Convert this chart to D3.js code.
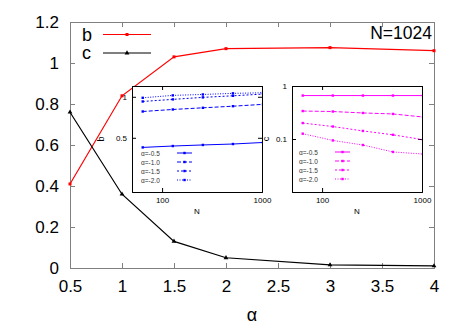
<!DOCTYPE html>
<html>
<head>
<meta charset="utf-8">
<title>b c vs alpha</title>
<script type="text/javascript" src="https://d3js.org/d3.v7.js"></script>
<style>
  body { margin: 0; background: #fff; }
  text { font-family: "Liberation Sans", Arial, sans-serif; }
</style>
</head>
<body>
<script type="text/javascript">
const width = 467;
const height = 327;

// main data (N=1024)
const alphas = [0.5, 1, 1.5, 2, 3, 4];
const bValues = [0.41, 0.84, 1.03, 1.07, 1.075, 1.06];
const cValues = [0.76, 0.36, 0.13, 0.05, 0.015, 0.01];
const xTicks = [0.5, 1, 1.5, 2, 2.5, 3, 3.5, 4];
const yTicks = [0, 0.2, 0.4, 0.6, 0.8, 1, 1.2];

// inset data
const sizes = [64, 128, 256, 512, 1024];
const insetAlphas = ["α=-0.5", "α=-1.0", "α=-1.5", "α=-2.0"];
const bInset = [
  [0.425, 0.435, 0.443, 0.450, 0.462],
  [0.78, 0.807, 0.83, 0.853, 0.88],
  [0.924, 0.957, 0.99, 1.017, 1.047],
  [0.983, 1.024, 1.04, 1.06, 1.07]
];
const cInset = [
  [0.66, 0.66, 0.66, 0.66, 0.66],
  [0.337, 0.33, 0.31, 0.297, 0.26],
  [0.2, 0.172, 0.142, 0.12, 0.097],
  [0.126, 0.094, 0.077, 0.057, 0.052]
];
const nTicks = [100, 1000];
const bInsetTicks = [0.5, 1];
const cInsetTicks = [0.1, 1];

const dashes = [null, "4,2", "2,2", "1,1.5"];

const svg = d3.select("body").append("svg")
  .attr("width", width).attr("height", height);

// main scales
const x = d3.scaleLinear().domain([0.5, 4]).range([70, 434]);
const y = d3.scaleLinear().domain([0, 1.2]).range([268, 22]);
const fmt = d => String(+d.toFixed(1));

// axes with inner ticks on all four sides
const frameColor = "#808080";
svg.append("g").attr("transform", "translate(0,268)")
  .call(d3.axisBottom(x).tickValues(xTicks).tickSize(-5).tickPadding(12).tickFormat(fmt))
  .call(g => g.select(".domain").attr("stroke", frameColor))
  .call(g => g.selectAll(".tick line").attr("stroke", frameColor))
  .call(g => g.selectAll("text").attr("font-size", 17).attr("fill", "#000")
    .attr("font-family", "Liberation Sans, Arial, sans-serif"));
svg.append("g").attr("transform", "translate(0,22)")
  .call(d3.axisTop(x).tickValues(xTicks).tickSize(-5).tickFormat(""))
  .call(g => g.select(".domain").attr("stroke", frameColor))
  .call(g => g.selectAll(".tick line").attr("stroke", frameColor));
svg.append("g").attr("transform", "translate(70,0)")
  .call(d3.axisLeft(y).tickValues(yTicks).tickSize(-5).tickPadding(11).tickFormat(fmt))
  .call(g => g.select(".domain").attr("stroke", frameColor))
  .call(g => g.selectAll(".tick line").attr("stroke", frameColor))
  .call(g => g.selectAll("text").attr("font-size", 17).attr("fill", "#000")
    .attr("font-family", "Liberation Sans, Arial, sans-serif"));
svg.append("g").attr("transform", "translate(434,0)")
  .call(d3.axisRight(y).tickValues(yTicks).tickSize(-5).tickFormat(""))
  .call(g => g.select(".domain").attr("stroke", frameColor))
  .call(g => g.selectAll(".tick line").attr("stroke", frameColor));

svg.append("text").attr("x", 252).attr("y", 321).attr("text-anchor", "middle")
  .attr("font-size", 18).text("α");

// main series
const mainLine = vals => d3.line().x((d, i) => x(alphas[i])).y(d => y(d))(vals);
svg.append("path").attr("d", mainLine(bValues)).attr("fill", "none")
  .attr("stroke", "#ff0000").attr("stroke-width", 1.2);
svg.append("path").attr("d", mainLine(cValues)).attr("fill", "none")
  .attr("stroke", "#000").attr("stroke-width", 1.2);
svg.selectAll(".bpt").data(bValues).enter().append("rect")
  .attr("x", (d, i) => x(alphas[i]) - 1.5).attr("y", d => y(d) - 1.5)
  .attr("width", 3).attr("height", 3).attr("fill", "#ff0000");
const tri = d3.symbol().type(d3.symbolTriangle).size(10);
svg.selectAll(".cpt").data(cValues).enter().append("path")
  .attr("d", tri).attr("transform", (d, i) => `translate(${x(alphas[i])},${y(d)})`)
  .attr("fill", "#000");

// main legend
const legend = [["b", "#ff0000", "sq"], ["c", "#000", "tri"]];
legend.forEach((l, i) => {
  const ly = 34.5 + i * 18.5;
  svg.append("text").attr("x", 82).attr("y", ly + 6).attr("font-size", 18).text(l[0]);
  svg.append("line").attr("x1", 103).attr("x2", 151).attr("y1", ly).attr("y2", ly)
    .attr("stroke", l[1]).attr("stroke-width", 1.2);
  if (l[2] === "sq") {
    svg.append("rect").attr("x", 125.5).attr("y", ly - 1.5).attr("width", 3).attr("height", 3).attr("fill", l[1]);
  } else {
    svg.append("path").attr("d", tri).attr("transform", `translate(127,${ly})`).attr("fill", l[1]);
  }
});
svg.append("text").attr("x", 432).attr("y", 39).attr("text-anchor", "end")
  .attr("font-size", 17.5).text("N=1024");

// insets
function inset(opts) {
  const xs = d3.scaleLog().domain([50, 1000]).range([opts.left, opts.left + 130]);
  const ys = d3.scaleLog().domain(opts.yDomain).range([192, 86]);
  const g = svg.append("g");
  g.append("rect").attr("x", opts.left).attr("y", 86).attr("width", 130).attr("height", 106)
    .attr("fill", "#fff").attr("stroke", "none");
  const clipId = "clip" + opts.left;
  g.append("clipPath").attr("id", clipId).append("rect")
    .attr("x", opts.left).attr("y", 86).attr("width", 130).attr("height", 106);
  const small = g2 => g2.selectAll("text").attr("font-size", 8).attr("fill", "#000")
    .attr("font-family", "Liberation Sans, Arial, sans-serif");
  g.append("g").attr("transform", "translate(0,192)")
    .call(d3.axisBottom(xs).tickValues(nTicks).tickSize(-4).tickPadding(5).tickFormat(d3.format("d")))
    .call(small);
  g.append("g").attr("transform", "translate(0,86)")
    .call(d3.axisTop(xs).tickValues(nTicks).tickSize(-4).tickFormat(""));
  g.append("g").attr("transform", `translate(${opts.left},0)`)
    .call(d3.axisLeft(ys).tickValues(opts.yTicks).tickSize(-4).tickPadding(5).tickFormat(d => String(d)))
    .call(small);
  g.append("g").attr("transform", `translate(${opts.left + 130},0)`)
    .call(d3.axisRight(ys).tickValues(opts.yTicks).tickSize(-4).tickFormat(""));
  g.selectAll(".domain").attr("stroke", "#000");
  g.append("text").attr("x", opts.left + 65).attr("y", 214).attr("text-anchor", "middle")
    .attr("font-size", 8).text("N");
  g.append("text").attr("transform", `translate(${opts.labelX},139) rotate(-90)`)
    .attr("text-anchor", "middle").attr("font-size", 9).text(opts.label);

  const line = d3.line().x((d, i) => xs(sizes[i])).y(d => ys(d));
  const plot = g.append("g").attr("clip-path", `url(#${clipId})`);
  opts.data.forEach((vals, k) => {
    plot.append("path").attr("d", line(vals)).attr("fill", "none")
      .attr("stroke", opts.color).attr("stroke-width", 1)
      .attr("stroke-dasharray", dashes[k]);
    plot.selectAll(null).data(vals).enter().append("rect")
      .attr("x", (d, i) => xs(sizes[i]) - 1.2).attr("y", d => ys(d) - 1.2)
      .attr("width", 2.4).attr("height", 2.4).attr("fill", opts.color);
    const ly = opts.legendY + k * 9;
    g.append("text").attr("x", opts.legendX).attr("y", ly + 2.5)
      .attr("font-size", 6.5).attr("fill", "#333").text(insetAlphas[k]);
    g.append("line").attr("x1", opts.legendX + 36).attr("x2", opts.legendX + 51)
      .attr("y1", ly).attr("y2", ly).attr("stroke", opts.color)
      .attr("stroke-width", 1).attr("stroke-dasharray", dashes[k]);
    g.append("rect").attr("x", opts.legendX + 42.3).attr("y", ly - 1.2)
      .attr("width", 2.4).attr("height", 2.4).attr("fill", opts.color);
  });
}

inset({ left: 132, yDomain: [0.2, 1.2], yTicks: bInsetTicks, data: bInset,
  color: "#0000ff", label: "b", labelX: 104, legendX: 141, legendY: 153 });
inset({ left: 292, yDomain: [0.01, 1], yTicks: cInsetTicks, data: cInset,
  color: "#ff00ff", label: "c", labelX: 269, legendX: 299, legendY: 152 });
</script>
</body>
</html>
